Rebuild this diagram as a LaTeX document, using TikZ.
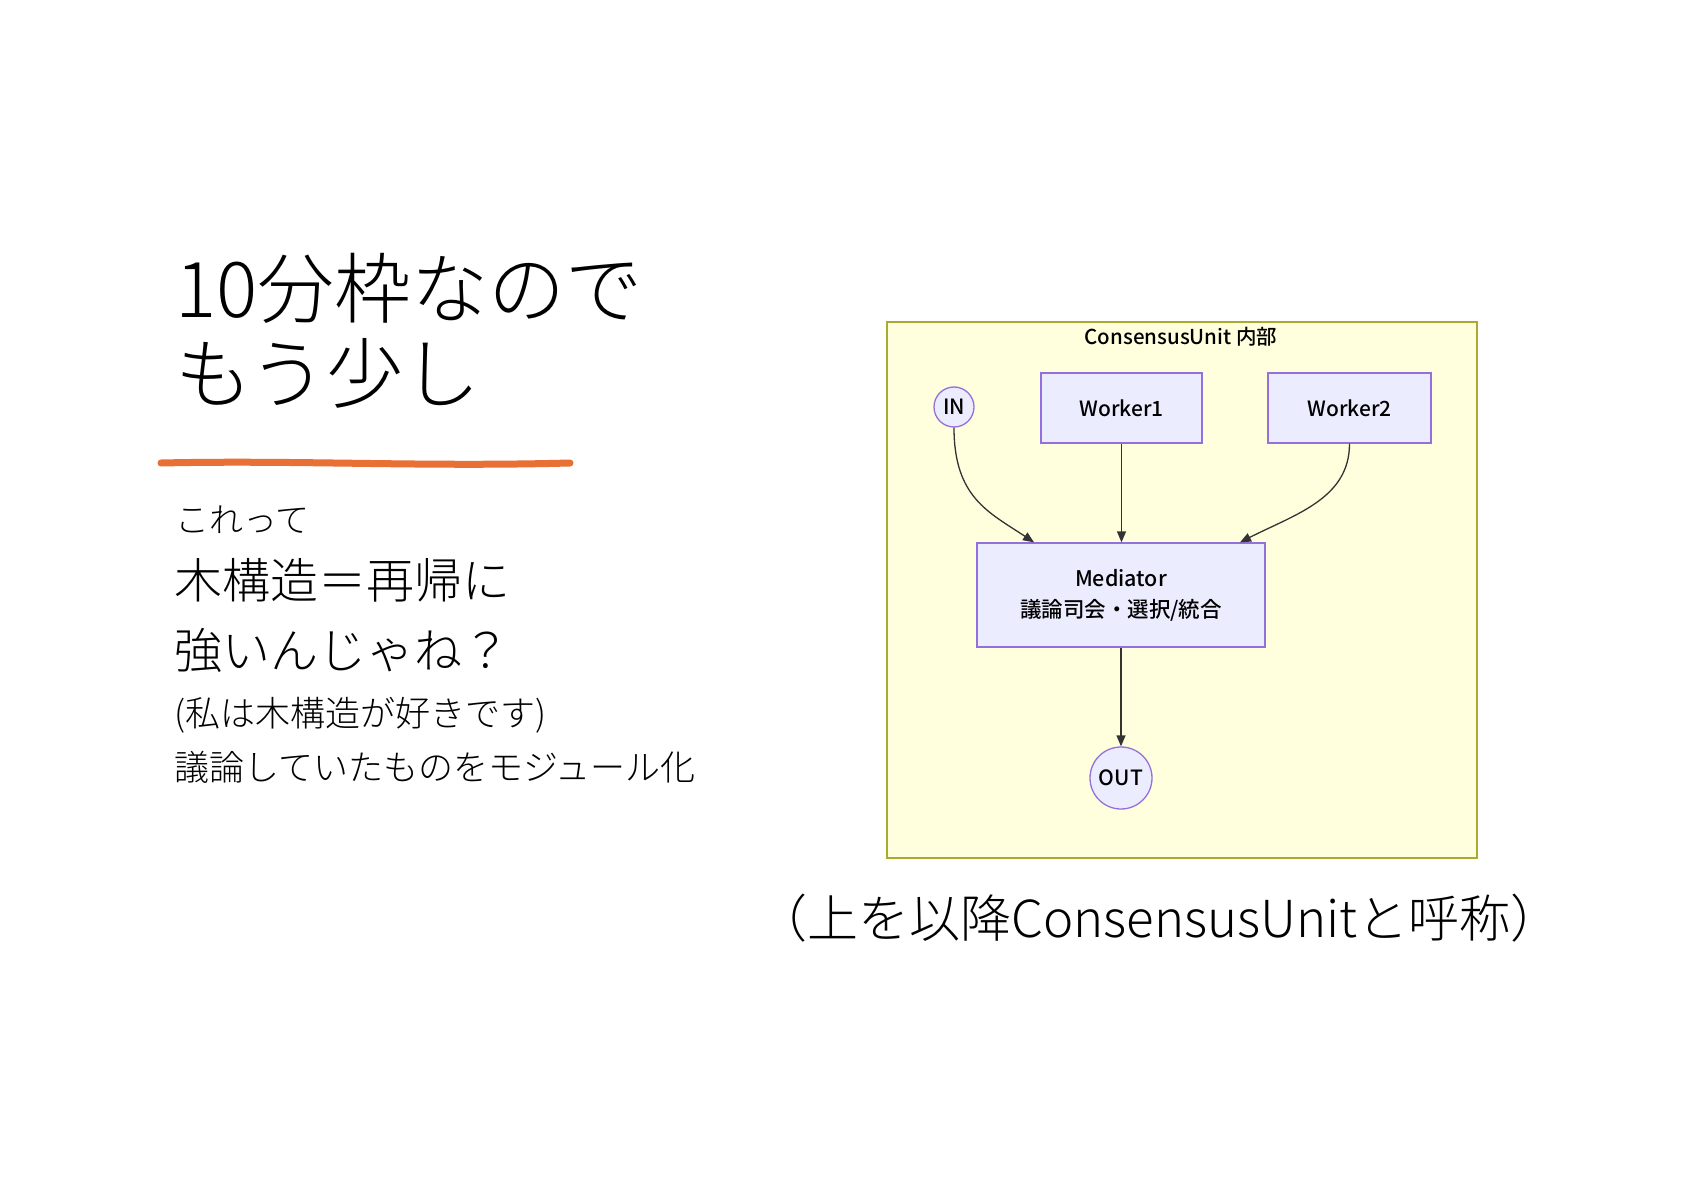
\documentclass[tikz,border=0pt]{standalone}
\usepackage{fontspec}
\setmainfont{Noto Sans CJK JP Medium}
\newfontfamily\lightfont{Noto Sans CJK JP Light}
\usetikzlibrary{arrows.meta}
\definecolor{clfill}{HTML}{FFFFDE}
\definecolor{cldraw}{HTML}{AAAA33}
\definecolor{ndfill}{HTML}{ECECFF}
\definecolor{nddraw}{HTML}{9370DB}
\definecolor{edgec}{HTML}{333333}
\definecolor{orangeline}{RGB}{232,112,52}
\tikzset{
  box/.style={draw=nddraw, fill=ndfill, line width=1.3pt, inner sep=0pt, font=\fontsize{21}{24}\selectfont, text=black},
  circ/.style={box, circle},
  edge/.style={draw=edgec, line width=1.3pt, -{Triangle[length=11pt,width=9pt]}},
  txt/.style={anchor=base west, inner sep=0pt, text=black},
}
\begin{document}
\begin{tikzpicture}[x=1pt,y=-1pt]
\useasboundingbox[fill=white] (0,0) rectangle (1684,1190);
% left text
\node[txt, font=\lightfont\fontsize{77}{80}\selectfont] (t1) at (175,317) {10分枠なので};
\node[txt, font=\lightfont\fontsize{77}{80}\selectfont] (t2) at (175,402) {もう少し};
\draw[orangeline, line width=7pt, line cap=round] (161,463) .. controls (300,460) and (420,467) .. (570,463);
\node[txt, font=\lightfont\fontsize{34}{36}\selectfont] (t3) at (175,532) {これって};
\node[txt, font=\lightfont\fontsize{48}{52}\selectfont] (t4) at (174,598) {木構造＝再帰に};
\node[txt, font=\lightfont\fontsize{48}{52}\selectfont] (t5) at (174,668) {強いんじゃね？};
\node[txt, font=\lightfont\fontsize{35}{36}\selectfont] (t6) at (174,726) {(私は木構造が好きです)};
\node[txt, font=\lightfont\fontsize{35}{36}\selectfont] (t7) at (174,780) {議論していたものをモジュール化};
% cluster
\draw[fill=clfill, draw=cldraw, line width=1.3pt] (887,322) rectangle (1477,858);
\node[font=\fontsize{20.5}{24}\selectfont, text=black] (ct) at (1181,337) {ConsensusUnit 内部};
\node[circ, minimum size=40pt] (in) at (954,407) {IN};
\node[box, minimum width=161pt, minimum height=70pt] (w1) at (1121.5,408) {Worker1};
\node[box, minimum width=163pt, minimum height=70pt] (w2) at (1349.5,408) {Worker2};
\node[box, minimum width=288pt, minimum height=104pt, align=center, font=\fontsize{21.5}{31}\selectfont] (med) at (1121,595) {Mediator\\議論司会・選択/統合};
\node[circ, minimum size=62pt] (out) at (1121,778) {OUT};
\draw[edge] (in.south) .. controls +(0,70) and +(-45,-30) .. ([xshift=-87pt]med.north);
\draw[edge] (w1.south) -- (w1.south |- med.north);
\draw[edge] (w2.south) .. controls +(0,55) and +(55,-28) .. ([xshift=119pt]med.north);
\draw[edge] (med.south) -- (out.north);
% caption
\node[anchor=base, inner sep=0pt, font=\lightfont\fontsize{51}{54}\selectfont] (cap) at (1159,937) {（上を以降ConsensusUnitと呼称）};
\end{tikzpicture}
\end{document}
